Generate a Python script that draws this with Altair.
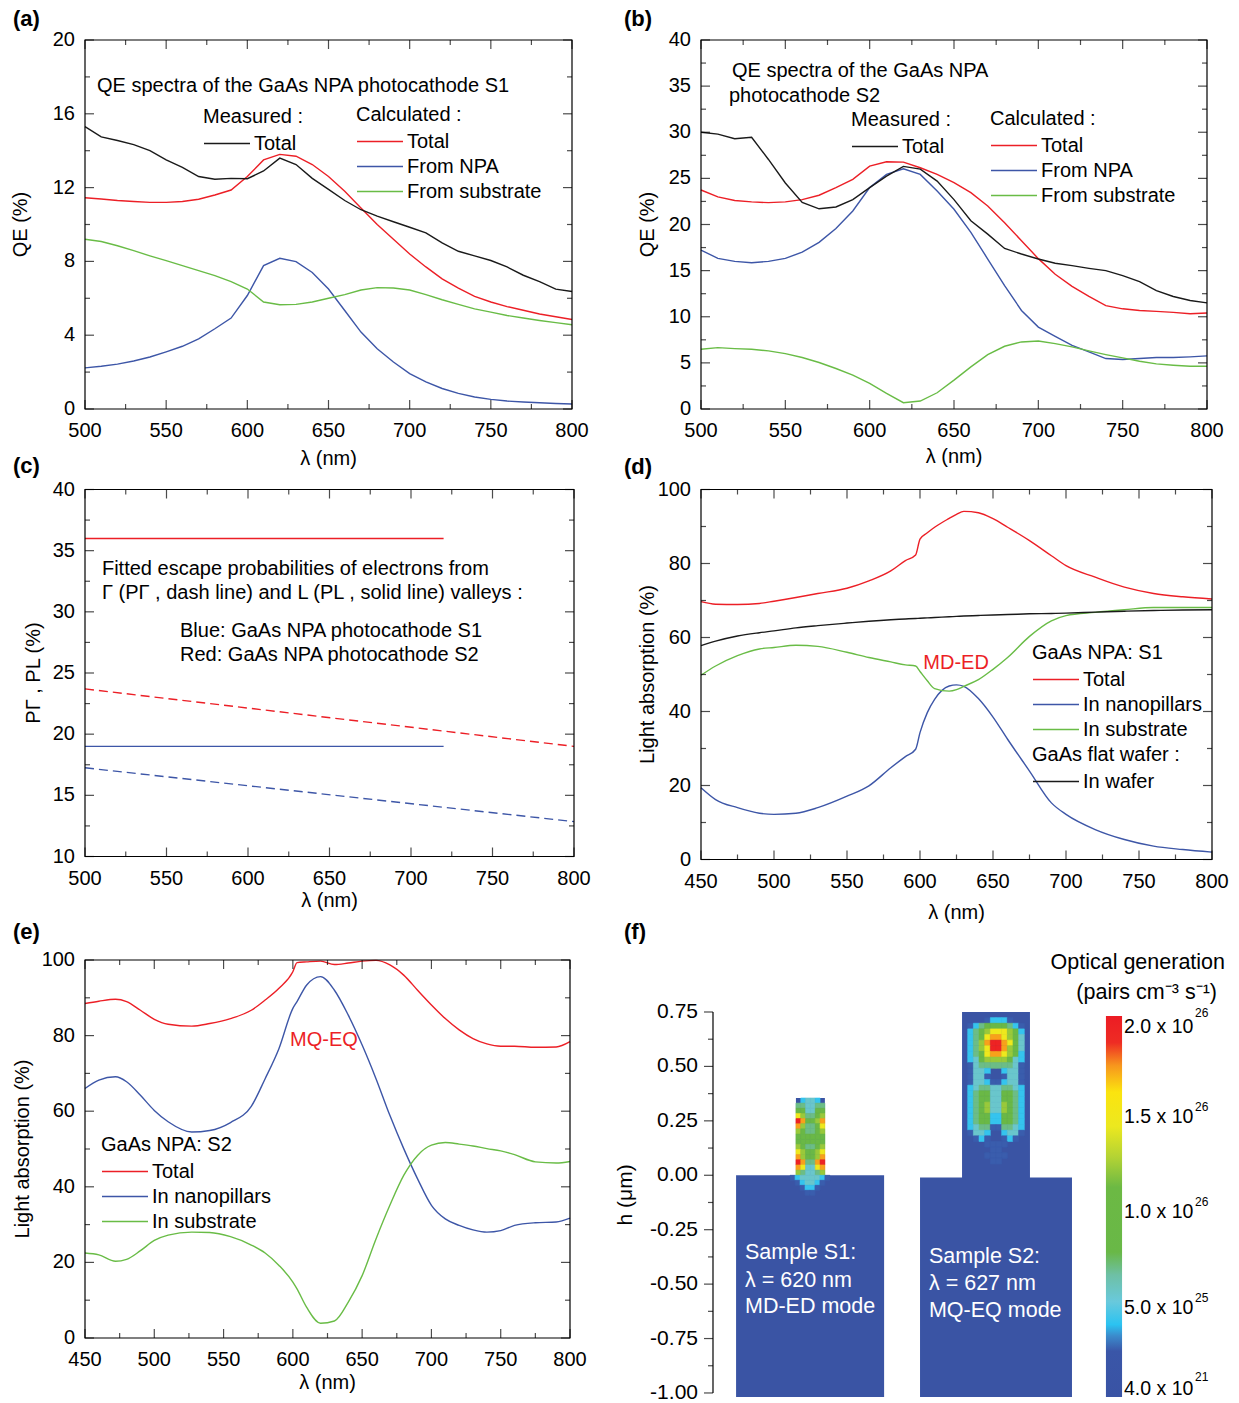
import altair as alt
import pandas as pd

FONT = "Liberation Sans"
RED = "#ec1f26"
BLUE = "#3d56a7"
GREEN = "#69bc46"
BLACK = "#1a1a1a"
SUBBLUE = "#3a54a4"

# ---------------- panel (a) / (b) data ----------------
wl_ab = [500, 510, 520, 530, 540, 550, 560, 570, 580, 590, 600, 610, 620, 630, 640,
         650, 660, 670, 680, 690, 700, 710, 720, 730, 740, 750, 760, 770, 780, 790, 800]

a_measured = [15.3, 14.75, 14.55, 14.33, 14.0, 13.5, 13.1, 12.6, 12.45, 12.5, 12.48, 12.9, 13.6, 13.25, 12.5,
              11.9, 11.3, 10.8, 10.45, 10.15, 9.85, 9.55, 9.0, 8.55, 8.3, 8.05, 7.7, 7.25, 6.9, 6.5, 6.37]
a_total = [11.45, 11.38, 11.3, 11.25, 11.2, 11.2, 11.25, 11.37, 11.6, 11.87, 12.6, 13.5, 13.8, 13.7, 13.25,
           12.6, 11.8, 10.9, 10.0, 9.2, 8.4, 7.7, 7.05, 6.55, 6.1, 5.8, 5.55, 5.35, 5.15, 5.0, 4.85]
a_npa = [2.23, 2.32, 2.43, 2.6, 2.82, 3.1, 3.4, 3.8, 4.35, 4.93, 6.15, 7.77, 8.17, 7.99, 7.4,
         6.5, 5.34, 4.17, 3.27, 2.55, 1.92, 1.47, 1.11, 0.85, 0.65, 0.52, 0.43, 0.38, 0.34, 0.3, 0.27]
a_sub = [9.2, 9.08, 8.85, 8.58, 8.3, 8.04, 7.77, 7.5, 7.23, 6.9, 6.5, 5.8, 5.65, 5.67, 5.8,
         6.0, 6.2, 6.45, 6.58, 6.56, 6.45, 6.2, 5.92, 5.67, 5.43, 5.25, 5.07, 4.93, 4.8, 4.68, 4.57]

b_measured = [30.0, 29.8, 29.3, 29.46, 27.05, 24.5, 22.4, 21.7, 21.9, 22.7, 24.0, 25.25, 26.3, 26.0, 24.7,
              22.7, 20.4, 18.96, 17.4, 16.8, 16.26, 15.8, 15.54, 15.25, 15.0, 14.46, 13.8, 12.84, 12.2, 11.76, 11.5]
b_total = [23.74, 23.0, 22.6, 22.45, 22.37, 22.45, 22.7, 23.17, 24.0, 24.9, 26.33, 26.8, 26.76, 26.15, 25.43,
           24.53, 23.45, 22.0, 20.2, 18.24, 16.3, 14.6, 13.3, 12.2, 11.2, 10.86, 10.68, 10.58, 10.47, 10.32, 10.4]
b_npa = [17.23, 16.33, 16.0, 15.86, 16.0, 16.33, 17.0, 18.06, 19.57, 21.47, 24.0, 25.43, 26.04, 25.43, 23.63,
         21.65, 19.14, 16.26, 13.38, 10.68, 8.88, 7.88, 6.9, 6.19, 5.47, 5.36, 5.47, 5.58, 5.58, 5.65, 5.76]
b_sub = [6.47, 6.65, 6.55, 6.47, 6.3, 6.0, 5.58, 5.04, 4.39, 3.67, 2.77, 1.69, 0.68, 0.86, 1.76,
         3.13, 4.57, 5.9, 6.8, 7.27, 7.37, 7.09, 6.73, 6.3, 5.9, 5.54, 5.18, 4.89, 4.75, 4.64, 4.64]

# ---------------- panel (c) data ----------------
c_solid_wl = [500, 720]
c_S1_L = [19.0, 19.0]
c_S2_L = [36.0, 36.0]
c_dash_wl = [500, 800]
c_S1_G = [17.25, 12.85]
c_S2_G = [23.7, 19.0]

# ---------------- panel (d) data ----------------
d_wl = [450, 460, 475, 490, 500, 515, 530, 550, 565, 580, 590, 597, 600, 605, 610, 620, 625, 630,
        640, 650, 660, 675, 690, 700, 720, 740, 760, 780, 800]
d_total = [69.7, 69.0, 68.9, 69.2, 69.8, 70.8, 71.9, 73.3, 75.3, 78.0, 80.8, 82.3, 86.6, 88.3, 89.8, 92.2, 93.3, 94.1,
           93.7, 92.1, 89.8, 86.2, 82.1, 79.4, 76.3, 73.6, 71.9, 71.0, 70.4]
d_pillar = [19.4, 16.2, 14.0, 12.5, 12.2, 12.5, 14.0, 17.1, 19.9, 24.8, 27.8, 29.8, 34.3, 39.7, 43.3, 46.9, 47.2, 46.8,
            43.5, 38.5, 32.5, 23.9, 15.3, 12.2, 8.1, 5.4, 3.6, 2.7, 2.0]
d_sub = [49.8, 52.3, 55.1, 56.9, 57.3, 57.9, 57.6, 56.0, 54.6, 53.4, 52.6, 52.3, 50.8, 48.3, 46.2, 45.5, 45.9, 46.8,
         48.6, 51.4, 54.6, 60.3, 64.5, 65.9, 66.8, 67.5, 68.1, 68.1, 68.1]
d_wafer = [57.8, 59.0, 60.4, 61.3, 61.8, 62.6, 63.2, 63.9, 64.4, 64.8, 65.0, 65.15, 65.2, 65.3, 65.4, 65.6, 65.7, 65.8,
           65.95, 66.1, 66.2, 66.4, 66.5, 66.6, 66.85, 67.1, 67.3, 67.45, 67.5]

# ---------------- panel (e) data ----------------
e_wl = [450, 460, 472, 480, 490, 500, 510, 527, 540, 555, 570, 580, 590, 600, 603, 610, 620, 630, 640,
        650, 660, 670, 680, 690, 700, 710, 720, 730, 740, 750, 760, 775, 790, 800]
e_total = [88.5, 89.1, 89.6, 89.0, 86.7, 84.3, 83.0, 82.5, 83.2, 84.5, 86.7, 89.4, 92.5, 96.9, 99.3, 99.5, 99.7, 98.8, 99.2,
           99.7, 99.9, 98.7, 96.0, 92.0, 88.1, 84.5, 81.5, 79.2, 77.8, 77.2, 77.2, 76.9, 77.0, 78.4]
e_pillar = [66.0, 68.2, 69.1, 67.8, 64.2, 60.2, 57.2, 54.5, 54.9, 57.0, 61.3, 68.6, 76.6, 87.2, 89.0, 93.4, 95.6, 92.0, 85.4,
            77.5, 68.6, 58.9, 50.1, 42.1, 35.1, 31.5, 29.8, 28.6, 28.0, 28.4, 29.8, 30.5, 30.7, 31.7]
e_sub = [22.5, 22.0, 20.3, 20.8, 23.1, 25.8, 27.2, 28.0, 27.9, 26.8, 24.6, 22.5, 19.2, 14.8, 13.0, 8.1, 3.9, 4.5, 9.5,
         16.5, 26.2, 35.1, 43.0, 48.3, 51.0, 51.7, 51.3, 50.8, 50.1, 49.5, 48.5, 46.6, 46.3, 46.7]

# ---------------- panel (f) data (micrometres) ----------------
f_rect_x0 = [0.106, 0.381, 0.951, 1.144]
f_rect_x1 = [0.786, 0.514, 1.649, 1.456]
f_rect_y0 = [-1.018, -0.002, -1.018, -0.012]
f_rect_y1 = [0.0, 0.355, -0.01, 0.75]

s1_box = (0.381, 0.514, 0.355, 0.0)
s1_map = ["023320", "443344", "553355", "764456", "985568", "864457", "654456", "555555",
          "555555", "654456", "765567", "865568", "984489", "873378", "643346"]
s1_halo_box = (0.354, 0.537, 0.0, -0.092)
s1_halo = ["12333321", "01233210", "00122100", "00011000"]
s2_box = (1.144, 1.456, 0.75, 0.0)
s2_map = ["000000000000", "000012221000", "012455554210", "024567776520", "024578876530",
          "024689987530", "024679986530", "024578876520", "023566665320", "013444444310",
          "013320023310", "013310013310", "013321123310", "023443344320", "024553355420",
          "024553355420", "024563365420", "024563365420", "024552255420", "024552255420",
          "023441144320", "013320023310", "001210012100", "000011110000", "000001100000",
          "000011110000", "000001100000", "000000000000", "000000000000"]
f_levels = [0.0, 0.125, 0.2, 0.27, 0.34, 0.45, 0.6, 0.72, 0.86, 0.97]

cb_offsets = [0.0, 0.12, 0.16, 0.19, 0.25, 0.32, 0.38, 0.55, 0.63, 0.71, 0.80, 0.87, 0.93, 1.0]
cb_colors = ["#3953a4", "#3a56a8", "#3b8bcc", "#2bc3f1", "#69c9dc", "#6ec0a5", "#69b847",
             "#6cb944", "#b4d334", "#ece81f", "#fbe40f", "#f7961d", "#ee2c24", "#ec1c24"]
cb_vals = [2.0e26, 1.5e26, 1.0e26, 5.0e25, 4.0e21]
cb_mant = ["2.0 x 10", "1.5 x 10", "1.0 x 10", "5.0 x 10", "4.0 x 10"]
cb_exp = ["26", "26", "26", "25", "21"]

f_yticks = [0.75, 0.5, 0.25, 0.0, -0.25, -0.5, -0.75, -1.0]
f_ylabels = ["0.75", "0.50", "0.25", "0.00", "-0.25", "-0.50", "-0.75", "-1.00"]
f_yminor = [0.625, 0.375, 0.125, -0.125, -0.375, -0.625, -0.875]

# geometry of colorbar (um)
CB_X0, CB_X1, CB_Y0, CB_Y1 = 1.805, 1.879, -1.018, 0.732
CB_LX = 1.888

XMAJ_5 = [500, 550, 600, 650, 700, 750, 800]
XMIN_5 = [525, 575, 625, 675, 725, 775]
XMAJ_45 = [450, 500, 550, 600, 650, 700, 750, 800]
XMIN_45 = [475, 525, 575, 625, 675, 725, 775]

TXT = 20
LAB = 20


# ---------------- helpers ----------------
def lin(domain):
    return alt.Scale(domain=domain, nice=False, zero=False)


def long_df(x, series, key):
    rows = []
    for name, vals in series.items():
        for xi, vi in zip(x, vals):
            rows.append({"x": xi, "v": vi, key: name})
    return pd.DataFrame(rows)


def X(field, xs):
    return alt.X(field, scale=xs, axis=None)


def Y(field, ys):
    return alt.Y(field, scale=ys, axis=None)


def XD(v, xs):
    return alt.XDatum(v, type="quantitative", scale=xs, axis=None)


def YD(v, ys):
    return alt.YDatum(v, type="quantitative", scale=ys, axis=None)


def legend(title, lx, ly):
    return alt.Legend(title=title, orient="none", legendX=lx, legendY=ly, symbolType="M-1,0L3,0",
                      symbolSize=529, symbolStrokeWidth=1.5, labelOffset=26, labelFontSize=TXT,
                      titleFontSize=TXT, titleFontWeight="normal", labelColor="black",
                      titleColor="black", padding=0, rowPadding=2, titlePadding=4,
                      labelLimit=400, titleLimit=400)


def frame_layers(xs, ys, xb, yb, xmaj, xmin, ymaj, ymin, LM=9, Lm=5):
    layers = []
    for vals, L in ((xmaj, LM), (xmin, Lm)):
        d = alt.Chart(pd.DataFrame({"t": vals}))
        layers.append(d.mark_tick(orient="vertical", size=L, thickness=1.2, color="black",
                                  yOffset=-L / 2).encode(x=X("t:Q", xs), y=YD(yb[0], ys)))
        layers.append(d.mark_tick(orient="vertical", size=L, thickness=1.2, color="black",
                                  yOffset=L / 2).encode(x=X("t:Q", xs), y=YD(yb[1], ys)))
    for vals, L in ((ymaj, LM), (ymin, Lm)):
        d = alt.Chart(pd.DataFrame({"t": vals}))
        layers.append(d.mark_tick(orient="horizontal", size=L, thickness=1.2, color="black",
                                  xOffset=L / 2).encode(y=Y("t:Q", ys), x=XD(xb[0], xs)))
        layers.append(d.mark_tick(orient="horizontal", size=L, thickness=1.2, color="black",
                                  xOffset=-L / 2).encode(y=Y("t:Q", ys), x=XD(xb[1], xs)))
    fr = pd.DataFrame({"x0": [xb[0]], "x1": [xb[1]], "y0": [yb[0]], "y1": [yb[1]]})
    layers.append(alt.Chart(fr).mark_rect(filled=False, color="black", strokeWidth=1.2).encode(
        x=X("x0:Q", xs), x2="x1:Q", y=Y("y0:Q", ys), y2="y1:Q"))
    return layers


def axis_layers(xs, ys, xb, yb, xmaj, ymaj, ytitle, ytitle_x, xtitle_y):
    out = []
    xl = alt.Chart(pd.DataFrame({"t": xmaj, "lab": [str(v) for v in xmaj]}))
    out.append(xl.mark_text(align="center", baseline="middle", dy=22, fontSize=LAB, color="black").encode(
        x=X("t:Q", xs), y=YD(yb[0], ys), text="lab:N"))
    yl = alt.Chart(pd.DataFrame({"t": ymaj, "lab": [str(v) for v in ymaj]}))
    out.append(yl.mark_text(align="right", baseline="middle", dx=-10, fontSize=LAB, color="black").encode(
        x=XD(xb[0], xs), y=Y("t:Q", ys), text="lab:N"))
    tt = alt.Chart(pd.DataFrame({"t": ["λ (nm)"]}))
    out.append(tt.mark_text(align="center", baseline="middle", dy=xtitle_y, fontSize=TXT, color="black").encode(
        x=XD((xb[0] + xb[1]) / 2, xs), y=YD(yb[0], ys), text="t:N"))
    ty = alt.Chart(pd.DataFrame({"t": [ytitle]}))
    out.append(ty.mark_text(align="center", baseline="middle", angle=270, xOffset=ytitle_x, fontSize=TXT,
                            color="black").encode(
        x=XD(xb[0], xs), y=YD((yb[0] + yb[1]) / 2, ys), text="t:N"))
    return out


def notes(rows, xs, ys, **kw):
    style = dict(align="left", baseline="middle", fontSize=TXT, color="black")
    style.update(kw)
    df = pd.DataFrame(rows, columns=["x", "y", "t"])
    return alt.Chart(df).mark_text(**style).encode(x=X("x:Q", xs), y=Y("y:Q", ys), text="t:N")


def panel_label(text, dx, dy):
    return alt.Chart(pd.DataFrame({"t": [text]})).mark_text(
        align="left", baseline="middle", fontSize=22, fontWeight="bold", color="black").encode(
        x=alt.value(dx), y=alt.value(dy), text="t:N")


def qe_panel(meas, total, npa, sub, ydom, ymaj, ymin, W, H, ytitle_x, xtitle_y,
             meas_leg, calc_leg, note_rows, label, label_pos):
    xs, ys = lin([500, 800]), lin(ydom)
    calc = alt.Chart(long_df(wl_ab, {"Total": total, "From NPA": npa, "From substrate": sub}, "calc")
                     ).mark_line(strokeWidth=1.4).encode(
        x=X("x:Q", xs), y=Y("v:Q", ys),
        color=alt.Color("calc:N", scale=alt.Scale(domain=["Total", "From NPA", "From substrate"],
                                                  range=[RED, BLUE, GREEN]),
                        legend=legend("Calculated :", *calc_leg)))
    m = alt.Chart(long_df(wl_ab, {"Total": meas}, "meas")).mark_line(strokeWidth=1.4).encode(
        x=X("x:Q", xs), y=Y("v:Q", ys),
        stroke=alt.Stroke("meas:N", scale=alt.Scale(domain=["Total"], range=[BLACK]),
                          legend=legend("Measured :", *meas_leg)))
    layers = [calc, m, notes(note_rows, xs, ys)]
    layers += frame_layers(xs, ys, [500, 800], ydom, XMAJ_5, XMIN_5, ymaj, ymin)
    layers += axis_layers(xs, ys, [500, 800], ydom, XMAJ_5, ymaj, "QE (%)", ytitle_x, xtitle_y)
    layers.append(panel_label(label, *label_pos))
    return alt.layer(*layers).properties(width=W, height=H)


# ---------------- (a) ----------------
pa = qe_panel(a_measured, a_total, a_npa, a_sub, [0, 20], [0, 4, 8, 12, 16, 20], [2, 6, 10, 14, 18],
              487, 369, -64, 50, (118, 67), (271, 65),
              [(507.4, 17.5, "QE spectra of the GaAs NPA photocathode S1")], "(a)", (-72, -21))

# ---------------- (b) ----------------
pb = qe_panel(b_measured, b_total, b_npa, b_sub, [0, 40], [0, 5, 10, 15, 20, 25, 30, 35, 40],
              [2.5, 7.5, 12.5, 17.5, 22.5, 27.5, 32.5, 37.5],
              506, 369, -53, 48, (150, 70), (289, 69),
              [(518.4, 36.6, "QE spectra of the GaAs NPA"), (516.6, 33.9, "photocathode S2")],
              "(b)", (-77, -21))

# ---------------- (c) ----------------
xs_c, ys_c = lin([500, 800]), lin([10, 40])
c_solid = long_df(c_solid_wl, {"S1": c_S1_L, "S2": c_S2_L}, "s")
c_dash = long_df(c_dash_wl, {"S1": c_S1_G, "S2": c_S2_G}, "s")
c_col = alt.Scale(domain=["S1", "S2"], range=[BLUE, RED])
c_l1 = alt.Chart(c_solid).mark_line(strokeWidth=1.4).encode(
    x=X("x:Q", xs_c), y=Y("v:Q", ys_c), color=alt.Color("s:N", scale=c_col, legend=None))
c_l2 = alt.Chart(c_dash).mark_line(strokeWidth=1.4, strokeDash=[9, 5]).encode(
    x=X("x:Q", xs_c), y=Y("v:Q", ys_c), color=alt.Color("s:N", scale=c_col, legend=None))
c_notes = notes([(510.4, 33.5, "Fitted escape probabilities of electrons from"),
                 (510.4, 31.5, "Γ (PΓ , dash line) and L (PL , solid line) valleys :"),
                 (558.3, 28.4, "Blue: GaAs NPA photocathode S1"),
                 (558.3, 26.5, "Red: GaAs NPA photocathode S2")], xs_c, ys_c)
c_ymaj = [10, 15, 20, 25, 30, 35, 40]
pc = alt.layer(c_l1, c_l2, c_notes,
               *frame_layers(xs_c, ys_c, [500, 800], [10, 40], XMAJ_5, XMIN_5,
                             c_ymaj, [12.5, 17.5, 22.5, 27.5, 32.5, 37.5]),
               *axis_layers(xs_c, ys_c, [500, 800], [10, 40], XMAJ_5, c_ymaj, "PΓ , PL (%)", -51, 44),
               panel_label("(c)", -72, -24)).properties(width=489, height=367)


# ---------------- (d) and (e) ----------------
def abs_panel(wl, total, pillar, sub, wafer, ydom, W, H, ytitle_x, xtitle_y,
              leg1, leg2, title1, mode_note, label, label_pos):
    xs, ys = lin([450, 800]), lin(ydom)
    npa = alt.Chart(long_df(wl, {"Total": total, "In nanopillars": pillar, "In substrate": sub}, "npa")
                    ).mark_line(strokeWidth=1.4, interpolate="monotone").encode(
        x=X("x:Q", xs), y=Y("v:Q", ys),
        color=alt.Color("npa:N", scale=alt.Scale(domain=["Total", "In nanopillars", "In substrate"],
                                                 range=[RED, BLUE, GREEN]),
                        legend=legend(title1, *leg1)))
    layers = [npa]
    if wafer is not None:
        layers.append(alt.Chart(long_df(wl, {"In wafer": wafer}, "waf")).mark_line(
            strokeWidth=1.4, interpolate="monotone").encode(
            x=X("x:Q", xs), y=Y("v:Q", ys),
            stroke=alt.Stroke("waf:N", scale=alt.Scale(domain=["In wafer"], range=[BLACK]),
                              legend=legend("GaAs flat wafer :", *leg2))))
    layers.append(notes([mode_note], xs, ys, align="center", color=RED, fontSize=20))
    ymaj = [0, 20, 40, 60, 80, 100]
    layers += frame_layers(xs, ys, [450, 800], [0, 100], XMAJ_45, XMIN_45, ymaj, [10, 30, 50, 70, 90])
    layers += axis_layers(xs, ys, [450, 800], [0, 100], XMAJ_45, ymaj, "Light absorption (%)",
                          ytitle_x, xtitle_y)
    layers.append(panel_label(label, *label_pos))
    return alt.layer(*layers).properties(width=W, height=H)


pd_ = abs_panel(d_wl, d_total, d_pillar, d_sub, d_wafer, [0, 100], 511, 370, -53, 53,
                (331, 153.5), (331, 255.5), "GaAs NPA: S1", (624.7, 53.0, "MD-ED"), "(d)", (-77, -23))
pe = abs_panel(e_wl, e_total, e_pillar, e_sub, None, [0, 105.29], 485, 398, -62, 45,
               (16, 195), None, "GaAs NPA: S2", (622.4, 78.8, "MQ-EQ"), "(e)", (-72, -8))

# ---------------- (f) ----------------
xs_f, ys_f = lin([-0.0551, 2.2784]), lin([-1.0323, 1.0807])


def grid_cells(rows, box):
    x0, x1, ytop, ybot = box
    nr, nc = len(rows), len(rows[0])
    dx, dy = (x1 - x0) / nc, (ytop - ybot) / nr
    out = []
    for j, r in enumerate(rows):
        for i, ch in enumerate(r):
            if ch == "0":
                continue
            out.append({"x": x0 + i * dx, "x2": x0 + (i + 1) * dx,
                        "y": ytop - j * dy, "y2": ytop - (j + 1) * dy, "v": f_levels[int(ch)]})
    return out


cells = pd.DataFrame(grid_cells(s1_map, s1_box) + grid_cells(s1_halo, s1_halo_box) +
                     grid_cells(s2_map, s2_box))
blocks = pd.DataFrame({"x": f_rect_x0, "x2": f_rect_x1, "y": f_rect_y0, "y2": f_rect_y1})
jet = alt.Scale(domain=cb_offsets, range=cb_colors, interpolate="rgb", clamp=True)

f_blocks = alt.Chart(blocks).mark_rect(color=SUBBLUE).encode(
    x=X("x:Q", xs_f), x2="x2:Q", y=Y("y:Q", ys_f), y2="y2:Q")
f_cells = alt.Chart(cells).mark_rect(strokeWidth=0.6).encode(
    x=X("x:Q", xs_f), x2="x2:Q", y=Y("y:Q", ys_f), y2="y2:Q",
    color=alt.Color("v:Q", scale=jet, legend=None),
    stroke=alt.Stroke("v:Q", scale=jet, legend=None))
grad = {"gradient": "linear", "x1": 0, "y1": 1, "x2": 0, "y2": 0,
        "stops": [{"offset": o, "color": c} for o, c in zip(cb_offsets, cb_colors)]}
f_cbar = alt.Chart(pd.DataFrame({"x": [CB_X0], "x2": [CB_X1], "y": [CB_Y0], "y2": [CB_Y1]})).mark_rect(
    color=grad).encode(x=X("x:Q", xs_f), x2="x2:Q", y=Y("y:Q", ys_f), y2="y2:Q")

cbd = alt.Chart(pd.DataFrame({"v": cb_vals, "m": cb_mant, "e": cb_exp})).transform_calculate(
    yy=f"({CB_Y0}) + datum.v / 2e26 * (({CB_Y1}) - ({CB_Y0}))")
cb_layers = []
for flt, base, dy_m, dy_e in (("datum.v >= 1.9e26", "top", 2, -8),
                              ("datum.v < 1.9e26 && datum.v > 1e24", "middle", 6, -4),
                              ("datum.v <= 1e24", "bottom", 2, -13)):
    enc = dict(x=XD(CB_LX, xs_f), y=Y("yy:Q", ys_f))
    cb_layers.append(cbd.transform_filter(flt).mark_text(
        align="left", baseline=base, dy=dy_m, fontSize=19.5, color="black").encode(text="m:N", **enc))
    cb_layers.append(cbd.transform_filter(flt).mark_text(
        align="left", baseline=base, dx=71, dy=dy_e, fontSize=12, color="black").encode(text="e:N", **enc))

f_cb_title = notes([(2.352, 0.975, "Optical generation"), (2.315, 0.837, "(pairs cm⁻³ s⁻¹)")],
                   xs_f, ys_f, align="right", fontSize=21.5)
f_samples = notes([(0.147, -0.357, "Sample S1:"), (0.147, -0.486, "λ = 620 nm"), (0.147, -0.605, "MD-ED mode"),
                   (0.992, -0.375, "Sample S2:"), (0.992, -0.499, "λ = 627 nm"), (0.992, -0.623, "MQ-EQ mode")],
                  xs_f, ys_f, color="white", fontSize=21.5)

f_axis_line = alt.Chart(pd.DataFrame({"x": [0.0], "y": [-1.0], "y2": [0.75]})).mark_rule(
    color="black", strokeWidth=1.2).encode(x=X("x:Q", xs_f), y=Y("y:Q", ys_f), y2="y2:Q")
f_tick_maj = alt.Chart(pd.DataFrame({"t": f_yticks, "lab": f_ylabels}))
f_ax_ticks = f_tick_maj.mark_tick(orient="horizontal", size=9, thickness=1.2, color="black",
                                  xOffset=-4.5).encode(x=XD(0.0, xs_f), y=Y("t:Q", ys_f))
f_ax_minor = alt.Chart(pd.DataFrame({"t": f_yminor})).mark_tick(
    orient="horizontal", size=5, thickness=1.2, color="black", xOffset=-2.5).encode(
    x=XD(0.0, xs_f), y=Y("t:Q", ys_f))
f_ax_labels = f_tick_maj.mark_text(align="right", baseline="middle", dx=-15, fontSize=21,
                                   color="black").encode(x=XD(0.0, xs_f), y=Y("t:Q", ys_f), text="lab:N")
f_ax_title = alt.Chart(pd.DataFrame({"t": ["h (μm)"]})).mark_text(
    angle=270, align="center", baseline="middle", fontSize=21, color="black", xOffset=-87).encode(
    x=XD(0.0, xs_f), y=YD(-0.09, ys_f), text="t:N")

pf = alt.layer(f_blocks, f_cells, f_cbar, *cb_layers, f_cb_title, f_samples,
               f_axis_line, f_ax_ticks, f_ax_minor, f_ax_labels, f_ax_title,
               panel_label("(f)", -77, -8)).properties(width=508, height=460)

chart = alt.concat(pa, pb, pc, pd_, pe, pf, columns=2, spacing={"row": 80.5, "column": 127},
                   bounds="flush").properties(
    padding={"left": 10, "top": 7, "right": 2, "bottom": 2}
).configure(font=FONT).configure_view(stroke="transparent")

chart.save("out.html", embed_options={"renderer": "svg", "actions": False})
